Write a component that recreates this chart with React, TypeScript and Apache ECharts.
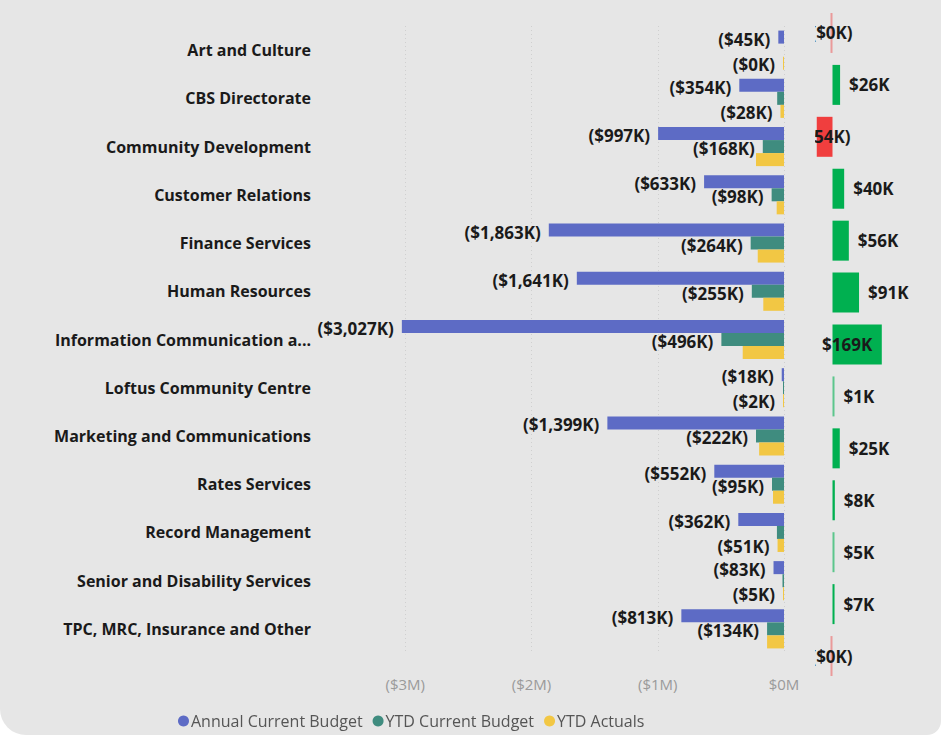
import React, { useEffect, useRef } from "react";
import * as echarts from "echarts";

const categories = [
  "Art and Culture",
  "CBS Directorate",
  "Community Development",
  "Customer Relations",
  "Finance Services",
  "Human Resources",
  "Information Communication a...",
  "Loftus Community Centre",
  "Marketing and Communications",
  "Rates Services",
  "Record Management",
  "Senior and Disability Services",
  "TPC, MRC, Insurance and Other",
];
// values in $K
const annualCurrentBudget = [-45, -354, -997, -633, -1863, -1641, -3027, -18, -1399, -552, -362, -83, -813];
const ytdCurrentBudget = [0, -54, -168, -98, -264, -255, -496, -3, -222, -95, -56, -12, -134];
const ytdActuals = [-0.3, -28, -222, -58, -208, -164, -327, -2, -197, -87, -51, -5, -134];
const varianceValues = [-0.2, 26, -54, 40, 56, 91, 169, 1, 25, 8, 5, 7, -0.3];
const xTickValues = [-3000, -2000, -1000, 0];

const BG = "#e6e6e6";
const FONT = "'Open Sans', 'Noto Sans', sans-serif";

const fmtNegK = (v: number) =>
  v < 0 ? `($${Math.round(Math.abs(v)).toLocaleString("en-US")}K)` : `$${Math.round(v).toLocaleString("en-US")}K`;

export default function App() {
  const ref = useRef<HTMLDivElement>(null);
  useEffect(() => {
    if (!ref.current) return;
    const chart = echarts.init(ref.current, null, { renderer: "svg" });
    const maxVar = Math.max(...varianceValues);
    // teal labels fit only when the blue bar is long enough to keep its label clear
    const showTeal = annualCurrentBudget.map((v) => Math.abs(v) > 450);
    const labelBase = {
      fontFamily: FONT,
      fontWeight: "bold" as const,
      fontSize: 17,
      color: "#1a1a1a",
      formatter: (p: any) => fmtNegK(p.value),
    };
    const varColor = (v: number) => {
      const a = Math.abs(v) < 1 ? 0.45 : Math.abs(v) < 6 ? 0.6 : 1;
      return v < 0 ? `rgba(240,62,62,${a})` : `rgba(0,176,80,${a})`;
    };
    chart.setOption({
      animation: false,
      backgroundColor: "transparent",
      textStyle: { fontFamily: FONT },
      grid: [
        { left: 279, width: 505, top: 26, height: 627 },
        { left: 815, width: 105, top: 7, height: 675 },
      ],
      xAxis: [
        {
          type: "value",
          gridIndex: 0,
          min: -4000,
          max: 0,
          interval: 1000,
          axisLine: { show: false },
          axisTick: { show: false },
          splitLine: {
            show: true,
            showMinLine: false,
            lineStyle: { color: "#cfcfcf", type: [1, 3], width: 1 },
          },
          axisLabel: {
            showMinLabel: false,
            color: "#9a9a9a",
            fontSize: 15,
            fontFamily: FONT,
            margin: 23,
            formatter: (v: number) =>
              xTickValues.includes(v) ? (v === 0 ? "$0M" : `($${Math.abs(v) / 1000}M)`) : "",
          },
        },
        {
          type: "value",
          gridIndex: 1,
          min: -60,
          max: 300,
          show: false,
        },
      ],
      yAxis: [
        {
          type: "category",
          gridIndex: 0,
          data: categories,
          inverse: true,
          axisLine: { show: false },
          axisTick: { show: false },
          axisLabel: {
            margin: -32,
            color: "#1a1a1a",
            fontWeight: "bold",
            fontSize: 16,
            fontFamily: FONT,
          },
        },
        {
          type: "category",
          gridIndex: 1,
          data: categories,
          inverse: true,
          show: false,
        },
      ],
      legend: {
        left: 173,
        top: 708,
        icon: "circle",
        itemWidth: 11,
        itemHeight: 11,
        itemGap: 10,
        textStyle: { color: "#555555", fontSize: 16, fontFamily: FONT, padding: [0, 0, 0, -3] },
        data: ["Annual Current Budget", "YTD Current Budget", "YTD Actuals"],
      },
      graphic: [
        {
          type: "rect",
          z: 100,
          shape: { x: 787, y: 0, width: 28, height: 672 },
          style: { fill: BG },
          silent: true,
        },
      ],
      series: [
        {
          name: "Annual Current Budget",
          type: "bar",
          xAxisIndex: 0,
          yAxisIndex: 0,
          data: annualCurrentBudget,
          barGap: "0%",
          barCategoryGap: "19%",
          barMinHeight: 1,
          itemStyle: { color: "#5d6bc5" },
          label: { show: true, position: "left", distance: 8, offset: [0, 2], ...labelBase },
        },
        {
          name: "YTD Current Budget",
          type: "bar",
          xAxisIndex: 0,
          yAxisIndex: 0,
          data: ytdCurrentBudget.map((v, i) => ({ value: v, label: { show: showTeal[i] } })),
          barGap: "0%",
          barCategoryGap: "19%",
          barMinHeight: 1,
          itemStyle: { color: "#3f8c7f" },
          label: { show: true, position: "left", distance: 8, offset: [0, 2], ...labelBase },
        },
        {
          name: "YTD Actuals",
          type: "bar",
          xAxisIndex: 0,
          yAxisIndex: 0,
          data: ytdActuals.map((v, i) => ({ value: v, label: { show: !showTeal[i] } })),
          barGap: "0%",
          barCategoryGap: "19%",
          barMinHeight: 1,
          itemStyle: { color: "#f2c744" },
          label: { show: true, position: "left", distance: 8, offset: [0, 1], ...labelBase },
        },
        {
          name: "Variance",
          type: "bar",
          xAxisIndex: 1,
          yAxisIndex: 1,
          barCategoryGap: "23%",
          barMinHeight: 2,
          data: varianceValues.map((v) => ({
            value: v,
            itemStyle: { color: varColor(v) },
            label:
              v < 0
                ? { position: "inside" }
                : v === maxVar
                ? { position: "inside", offset: [-10, 0] }
                : { position: "right", distance: 9 },
          })),
          label: { show: true, ...labelBase },
        },
      ],
    });
    return () => chart.dispose();
  }, []);
  return (
    <div
      style={{
        position: "fixed",
        left: 0,
        top: 0,
        width: 941,
        height: 735,
        background: BG,
        borderRadius: "0 0 14px 26px",
      }}
    >
      <div ref={ref} style={{ width: 941, height: 735 }} />
    </div>
  );
}
